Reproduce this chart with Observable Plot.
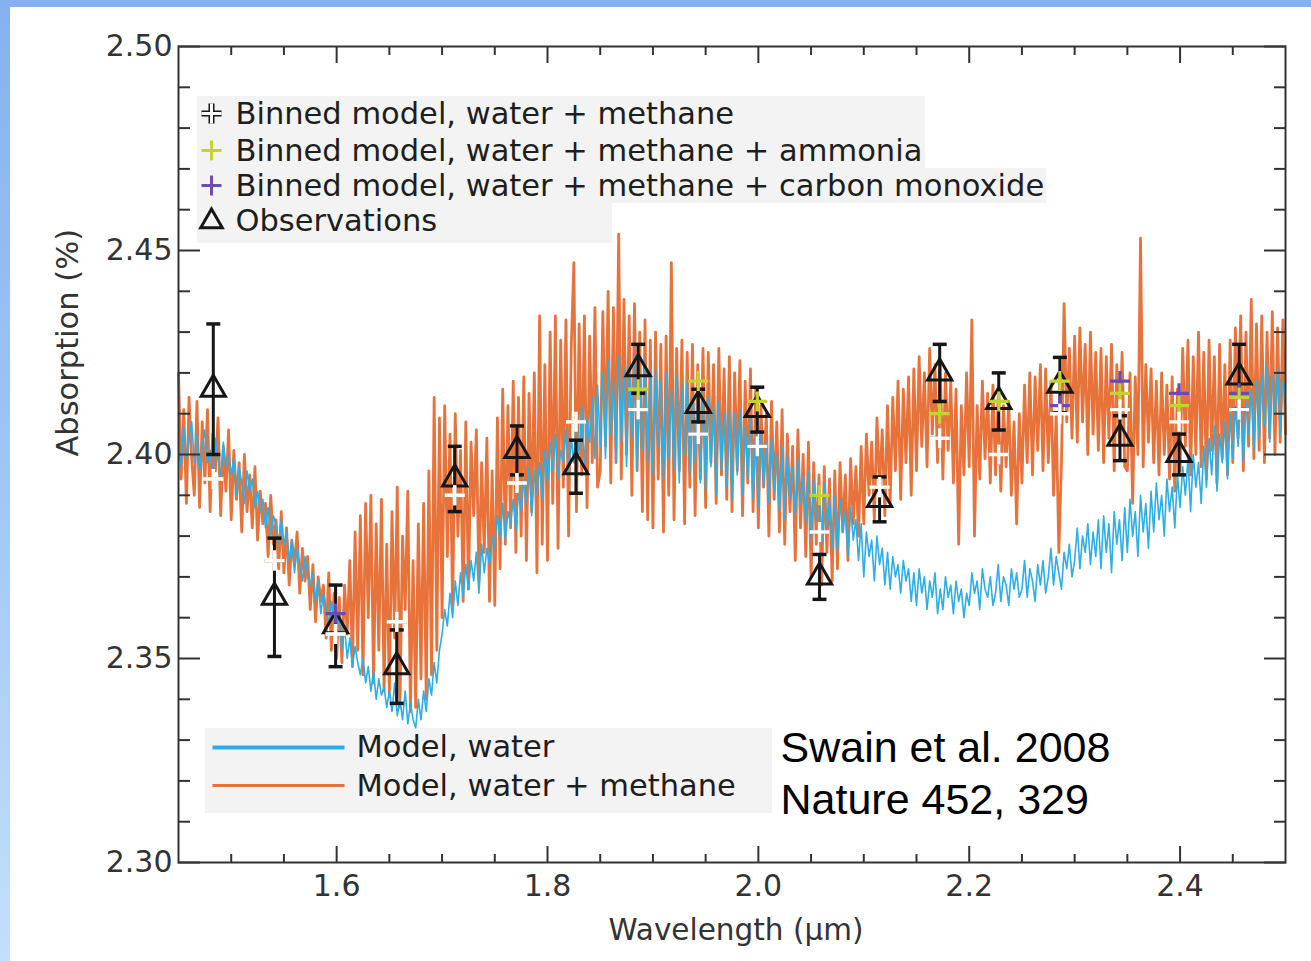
<!DOCTYPE html>
<html>
<head>
<meta charset="utf-8">
<script src="https://cdn.jsdelivr.net/npm/d3@7"></script>
<script src="https://cdn.jsdelivr.net/npm/@observablehq/plot@0.6"></script>
<style>
  html, body { margin: 0; padding: 0; }
  body {
    width: 1311px; height: 961px; overflow: hidden; position: relative;
    background: linear-gradient(180deg, #86b1ef 0%, #9cc4f4 45%, #c2e0fb 100%);
    font-family: "DejaVu Sans", sans-serif;
  }
  #panel { position: absolute; left: 10px; top: 7px; width: 1301px; height: 954px; background: #fff; }
  #panel svg { display: block; }
</style>
</head>
<body>
<div id="panel"></div>
<script>
// Transit spectrum of HD 189733b: model spectra and NICMOS observations.

// Model spectra sampled on a regular wavelength grid (µm)
const wavelengthStart = 1.45;
const wavelengthStep = 0.0025;

// Model, water + methane (absorption, %), one row per 0.025 µm
const modelWaterMethane = [
  2.420, 2.394, 2.411, 2.388, 2.414, 2.399, 2.390, 2.413, 2.387, 2.408,
  2.393, 2.411, 2.386, 2.405, 2.396, 2.409, 2.385, 2.402, 2.391, 2.406,
  2.384, 2.401, 2.389, 2.398, 2.381, 2.400, 2.386, 2.395, 2.382, 2.397,
  2.379, 2.391, 2.383, 2.388, 2.375, 2.390, 2.378, 2.384, 2.372, 2.386,
  2.371, 2.382, 2.368, 2.379, 2.373, 2.381, 2.366, 2.377, 2.369, 2.375,
  2.362, 2.373, 2.359, 2.370, 2.364, 2.368, 2.355, 2.371, 2.352, 2.366,
  2.350, 2.365, 2.349, 2.368, 2.356, 2.374, 2.348, 2.381, 2.352, 2.385,
  2.346, 2.388, 2.360, 2.390, 2.344, 2.383, 2.352, 2.389, 2.342, 2.378,
  2.341, 2.386, 2.355, 2.392, 2.338, 2.380, 2.362, 2.391, 2.337, 2.374,
  2.338, 2.383, 2.345, 2.388, 2.340, 2.396, 2.346, 2.414, 2.352, 2.409,
  2.360, 2.412, 2.375, 2.405, 2.362, 2.410, 2.380, 2.401, 2.364, 2.408,
  2.367, 2.403, 2.385, 2.406, 2.369, 2.398, 2.376, 2.404, 2.364, 2.396,
  2.363, 2.409, 2.372, 2.416, 2.378, 2.412, 2.382, 2.418, 2.376, 2.414,
  2.380, 2.419, 2.374, 2.415, 2.386, 2.420, 2.371, 2.434, 2.378, 2.422,
  2.374, 2.430, 2.388, 2.434, 2.377, 2.428, 2.392, 2.433, 2.380, 2.426,
  2.447, 2.386, 2.432, 2.395, 2.434, 2.387, 2.429, 2.398, 2.436, 2.392,
  2.396, 2.435, 2.402, 2.440, 2.393, 2.436, 2.398, 2.454, 2.394, 2.438,
  2.400, 2.434, 2.390, 2.437, 2.396, 2.430, 2.386, 2.433, 2.384, 2.428,
  2.382, 2.430, 2.394, 2.427, 2.381, 2.429, 2.390, 2.447, 2.384, 2.426,
  2.396, 2.428, 2.383, 2.425, 2.392, 2.427, 2.385, 2.422, 2.394, 2.426,
  2.387, 2.425, 2.398, 2.422, 2.388, 2.426, 2.395, 2.421, 2.389, 2.424,
  2.386, 2.420, 2.396, 2.423, 2.385, 2.418, 2.393, 2.421, 2.386, 2.416,
  2.382, 2.412, 2.392, 2.410, 2.380, 2.413, 2.389, 2.408, 2.381, 2.411,
  2.378, 2.405, 2.386, 2.402, 2.374, 2.406, 2.382, 2.400, 2.375, 2.403,
  2.370, 2.398, 2.378, 2.395, 2.368, 2.397, 2.376, 2.394, 2.369, 2.396,
  2.372, 2.398, 2.381, 2.395, 2.374, 2.399, 2.383, 2.397, 2.380, 2.402,
  2.383, 2.405, 2.390, 2.403, 2.384, 2.409, 2.392, 2.406, 2.385, 2.412,
  2.388, 2.414, 2.396, 2.418, 2.389, 2.416, 2.398, 2.419, 2.390, 2.421,
  2.396, 2.424, 2.402, 2.420, 2.397, 2.426, 2.405, 2.422, 2.398, 2.423,
  2.394, 2.420, 2.401, 2.418, 2.393, 2.416, 2.378, 2.412, 2.395, 2.420,
  2.397, 2.433, 2.380, 2.412, 2.394, 2.418, 2.399, 2.415, 2.393, 2.417,
  2.395, 2.414, 2.391, 2.412, 2.397, 2.413, 2.390, 2.408, 2.383, 2.410,
  2.393, 2.417, 2.398, 2.420, 2.395, 2.419, 2.401, 2.422, 2.396, 2.421,
  2.398, 2.418, 2.390, 2.410, 2.376, 2.398, 2.437, 2.408, 2.426, 2.404,
  2.429, 2.403, 2.431, 2.408, 2.427, 2.400, 2.430, 2.405, 2.425, 2.401,
  2.426, 2.398, 2.424, 2.404, 2.427, 2.396, 2.422, 2.402, 2.425, 2.397,
  2.396, 2.420, 2.388, 2.419, 2.400, 2.453, 2.397, 2.422, 2.403, 2.421,
  2.398, 2.418, 2.395, 2.420, 2.400, 2.417, 2.394, 2.419, 2.391, 2.416,
  2.396, 2.426, 2.402, 2.428, 2.395, 2.424, 2.400, 2.430, 2.397, 2.425,
  2.394, 2.428, 2.401, 2.424, 2.393, 2.427, 2.399, 2.422, 2.395, 2.428,
  2.398, 2.431, 2.404, 2.434, 2.396, 2.430, 2.402, 2.438, 2.399, 2.432,
  2.401, 2.434, 2.398, 2.430, 2.404, 2.435, 2.400, 2.431, 2.403, 2.433,
  2.405
];

// Model, water only (absorption, %), one row per 0.025 µm
const modelWater = [
  2.403, 2.397, 2.407, 2.399, 2.404, 2.408, 2.398, 2.405, 2.396, 2.402,
  2.406, 2.398, 2.401, 2.395, 2.404, 2.399, 2.394, 2.403, 2.397, 2.400,
  2.395, 2.399, 2.390, 2.397, 2.393, 2.388, 2.396, 2.391, 2.394, 2.387,
  2.391, 2.386, 2.389, 2.382, 2.387, 2.380, 2.385, 2.383, 2.378, 2.384,
  2.378, 2.381, 2.374, 2.379, 2.371, 2.377, 2.373, 2.369, 2.375, 2.370,
  2.368, 2.371, 2.364, 2.369, 2.361, 2.366, 2.363, 2.358, 2.364, 2.359,
  2.357, 2.360, 2.352, 2.358, 2.350, 2.355, 2.348, 2.353, 2.349, 2.346,
  2.350, 2.344, 2.348, 2.342, 2.347, 2.340, 2.345, 2.341, 2.343, 2.338,
  2.342, 2.337, 2.344, 2.336, 2.340, 2.335, 2.342, 2.334, 2.339, 2.335,
  2.333, 2.340, 2.335, 2.342, 2.337, 2.345, 2.341, 2.349, 2.344, 2.352,
  2.356, 2.362, 2.358, 2.366, 2.360, 2.369, 2.363, 2.371, 2.365, 2.373,
  2.367, 2.374, 2.369, 2.376, 2.366, 2.378, 2.371, 2.377, 2.373, 2.380,
  2.377, 2.385, 2.380, 2.388, 2.379, 2.386, 2.383, 2.389, 2.381, 2.391,
  2.386, 2.394, 2.388, 2.397, 2.385, 2.396, 2.390, 2.398, 2.389, 2.401,
  2.393, 2.403, 2.396, 2.405, 2.394, 2.401, 2.398, 2.406, 2.395, 2.404,
  2.398, 2.410, 2.400, 2.412, 2.397, 2.409, 2.403, 2.414, 2.399, 2.417,
  2.402, 2.420, 2.399, 2.423, 2.405, 2.418, 2.398, 2.424, 2.403, 2.421,
  2.397, 2.422, 2.404, 2.424, 2.396, 2.419, 2.401, 2.423, 2.398, 2.420,
  2.395, 2.421, 2.402, 2.418, 2.394, 2.420, 2.399, 2.416, 2.396, 2.419,
  2.393, 2.417, 2.400, 2.418, 2.395, 2.414, 2.398, 2.416, 2.393, 2.415,
  2.391, 2.414, 2.397, 2.412, 2.390, 2.413, 2.396, 2.410, 2.392, 2.411,
  2.389, 2.410, 2.395, 2.411, 2.390, 2.407, 2.394, 2.409, 2.389, 2.406,
  2.387, 2.405, 2.392, 2.403, 2.388, 2.404, 2.391, 2.400, 2.386, 2.402,
  2.384, 2.400, 2.389, 2.397, 2.385, 2.399, 2.388, 2.395, 2.383, 2.396,
  2.379, 2.394, 2.384, 2.391, 2.378, 2.393, 2.382, 2.389, 2.377, 2.390,
  2.376, 2.389, 2.381, 2.386, 2.375, 2.387, 2.379, 2.384, 2.374, 2.383,
  2.370, 2.381, 2.375, 2.379, 2.369, 2.380, 2.373, 2.377, 2.368, 2.376,
  2.367, 2.375, 2.370, 2.373, 2.366, 2.374, 2.369, 2.372, 2.364, 2.371,
  2.363, 2.372, 2.366, 2.370, 2.362, 2.369, 2.365, 2.371, 2.361, 2.367,
  2.362, 2.370, 2.365, 2.368, 2.361, 2.369, 2.364, 2.367, 2.360, 2.366,
  2.363, 2.371, 2.366, 2.369, 2.362, 2.372, 2.367, 2.365, 2.370, 2.363,
  2.366, 2.373, 2.364, 2.370, 2.368, 2.363, 2.372, 2.367, 2.371, 2.365,
  2.367, 2.374, 2.365, 2.372, 2.369, 2.364, 2.373, 2.368, 2.374, 2.366,
  2.370, 2.377, 2.368, 2.375, 2.371, 2.367, 2.376, 2.372, 2.378, 2.370,
  2.374, 2.382, 2.372, 2.380, 2.376, 2.383, 2.373, 2.381, 2.375, 2.384,
  2.372, 2.385, 2.376, 2.383, 2.371, 2.386, 2.378, 2.384, 2.374, 2.387,
  2.376, 2.389, 2.380, 2.386, 2.375, 2.390, 2.381, 2.388, 2.377, 2.391,
  2.381, 2.393, 2.384, 2.390, 2.380, 2.394, 2.386, 2.392, 2.382, 2.395,
  2.387, 2.397, 2.390, 2.399, 2.386, 2.400, 2.392, 2.398, 2.388, 2.402,
  2.392, 2.404, 2.395, 2.407, 2.391, 2.405, 2.398, 2.408, 2.394, 2.410,
  2.399, 2.412, 2.402, 2.414, 2.398, 2.413, 2.405, 2.416, 2.401, 2.418,
  2.404, 2.420, 2.407, 2.422, 2.403, 2.419, 2.410, 2.421, 2.405, 2.418,
  2.415
];

// Observed channels (µm) and measured absorption with 1-sigma errors (%)
const obsWavelength = [1.483, 1.541, 1.599, 1.657, 1.712, 1.771, 1.827, 1.886, 1.943,
                       1.999, 2.058, 2.115, 2.172, 2.228, 2.286, 2.343, 2.399, 2.456];
const obsAbsorption = [2.416, 2.365, 2.358, 2.348, 2.394, 2.401, 2.397, 2.421, 2.412,
                       2.411, 2.370, 2.389, 2.420, 2.413, 2.417, 2.404, 2.400, 2.419];
const obsError      = [0.016, 0.0145, 0.010, 0.009, 0.008, 0.006, 0.0065, 0.006, 0.004,
                       0.0055, 0.0055, 0.0055, 0.007, 0.007, 0.0068, 0.0055, 0.005, 0.008];

// Binned models at the observed channels (%)
const binnedWaterMethane = [2.394, 2.374, 2.356, 2.359, 2.390, 2.393, 2.408, 2.411, 2.405,
                            2.402, 2.381, 2.392, 2.404, 2.400, 2.410, 2.411, 2.408, 2.411];
const binnedAmmonia      = [2.394, 2.374, 2.356, 2.359, 2.390, 2.393, 2.408, 2.416, 2.418,
                            2.413, 2.390, 2.392, 2.410, 2.413, 2.418, 2.415, 2.412, 2.414];
const binnedCarbonMonoxide = [2.394, 2.374, 2.361, 2.359, 2.390, 2.393, 2.408, 2.411, 2.405,
                              2.402, 2.381, 2.392, 2.404, 2.400, 2.412, 2.418, 2.415, 2.415];

// Axis ticks
const xMajorTicks = [1.6, 1.8, 2.0, 2.2, 2.4];
const xMinorTicks = [1.5, 1.55, 1.65, 1.7, 1.75, 1.85, 1.9, 1.95, 2.05, 2.1, 2.15, 2.25, 2.3, 2.35, 2.45];
const yMajorTicks = [2.30, 2.35, 2.40, 2.45, 2.50];
const yMinorTicks = [2.31, 2.32, 2.33, 2.34, 2.36, 2.37, 2.38, 2.39, 2.41, 2.42, 2.43, 2.44, 2.46, 2.47, 2.48, 2.49];

// Text
const legendBinned = [
  "Binned model, water + methane",
  "Binned model, water + methane + ammonia",
  "Binned model, water + methane + carbon monoxide",
  "Observations"
];
const legendModels = ["Model, water", "Model, water + methane"];
const citation = ["Swain et al. 2008", "Nature 452, 329"];
const xLabel = "Wavelength (μm)";
const yLabel = "Absorption (%)";

// Colours
const orange = "#e8733a";
const blue = "#2caee6";
const lime = "#c5d330";
const violet = "#6a4cb4";
const ink = "#161616";
const axisInk = "#333333";

// Build tables
const spectrum = (values) => values.map((a, i) => ({
  wavelength: +(wavelengthStart + i * wavelengthStep).toFixed(5),
  absorption: a
}));
const obs = obsWavelength.map((w, i) => ({
  wavelength: w,
  absorption: obsAbsorption[i],
  lo: obsAbsorption[i] - obsError[i],
  hi: obsAbsorption[i] + obsError[i],
  binned: binnedWaterMethane[i],
  ammonia: binnedAmmonia[i],
  co: binnedCarbonMonoxide[i]
}));

// Custom stroked symbols
const crossSymbol = (h) => ({draw(c) { c.moveTo(-h, 0); c.lineTo(h, 0); c.moveTo(0, -h); c.lineTo(0, h); }});
const capSymbol = {draw(c) { c.moveTo(-7, 0); c.lineTo(7, 0); }};
const sampleLine = {draw(c) { c.moveTo(-66, 0); c.lineTo(66, 0); }};
const plus = crossSymbol(10);
const legendPlus = crossSymbol(10);

const font = "'DejaVu Sans', sans-serif";
const citeFont = "'Liberation Sans', Arial, sans-serif";
const legendFont = 30.5;
const tickFont = 30;

const chart = Plot.plot({
  width: 1301,
  height: 954,
  marginLeft: 168,
  marginRight: 26,
  marginTop: 39,
  marginBottom: 99,
  style: {fontFamily: font, fontSize: `${tickFont}px`, color: axisInk, background: "transparent", overflow: "visible"},
  x: {domain: [1.45, 2.50]},
  y: {domain: [2.30, 2.50]},
  marks: [
    // model spectra
    Plot.lineY(spectrum(modelWaterMethane), {x: "wavelength", y: "absorption", stroke: orange, strokeWidth: 2.8}),
    Plot.lineY(spectrum(modelWater), {x: "wavelength", y: "absorption", stroke: blue, strokeWidth: 1.6}),

    // observations: error bars, caps and open triangles
    Plot.ruleX(obs, {x: "wavelength", y1: "lo", y2: "hi", stroke: ink, strokeWidth: 3}),
    Plot.dot(obs, {x: "wavelength", y: "lo", symbol: capSymbol, r: 5, fill: "none", stroke: ink, strokeWidth: 3.5}),
    Plot.dot(obs, {x: "wavelength", y: "hi", symbol: capSymbol, r: 5, fill: "none", stroke: ink, strokeWidth: 3.5}),
    Plot.dot(obs, {x: "wavelength", y: "absorption", symbol: "triangle", r: 9, fill: "none", stroke: ink, strokeWidth: 3}),

    // binned models
    Plot.dot(obs, {x: "wavelength", y: "co", symbol: plus, r: 5, fill: "none", stroke: violet, strokeWidth: 3.2}),
    Plot.dot(obs, {x: "wavelength", y: "ammonia", symbol: plus, r: 5, fill: "none", stroke: lime, strokeWidth: 3.2}),
    Plot.dot(obs, {x: "wavelength", y: "binned", symbol: plus, r: 5, fill: "none", stroke: "white", strokeWidth: 3.4}),

    // frame and inward ticks
    Plot.frame({stroke: axisInk, strokeWidth: 2}),
    Plot.axisX(xMajorTicks, {anchor: "bottom", tickSize: -16, fill: "none", stroke: axisInk, strokeWidth: 2}),
    Plot.axisX(xMinorTicks, {anchor: "bottom", tickSize: -8, fill: "none", stroke: axisInk, strokeWidth: 2}),
    Plot.axisX(xMajorTicks, {anchor: "top", tickSize: -16, fill: "none", stroke: axisInk, strokeWidth: 2}),
    Plot.axisX(xMinorTicks, {anchor: "top", tickSize: -8, fill: "none", stroke: axisInk, strokeWidth: 2}),
    Plot.axisY(yMajorTicks, {anchor: "left", tickSize: -22, fill: "none", stroke: axisInk, strokeWidth: 2}),
    Plot.axisY(yMinorTicks, {anchor: "left", tickSize: -12, fill: "none", stroke: axisInk, strokeWidth: 2}),
    Plot.axisY(yMajorTicks, {anchor: "right", tickSize: -22, fill: "none", stroke: axisInk, strokeWidth: 2}),
    Plot.axisY(yMinorTicks, {anchor: "right", tickSize: -12, fill: "none", stroke: axisInk, strokeWidth: 2}),

    // tick labels
    Plot.axisX(xMajorTicks, {anchor: "bottom", tickSize: 0, tickPadding: 12, stroke: "none", fill: axisInk, tickFormat: (d) => d.toFixed(1), label: null, fontSize: tickFont}),
    Plot.axisY(yMajorTicks, {anchor: "left", tickSize: 0, tickPadding: 6, stroke: "none", fill: axisInk, tickFormat: (d) => d.toFixed(2), label: null, fontSize: tickFont}),

    // axis titles
    Plot.text([xLabel], {frameAnchor: "bottom", dx: 4, dy: 68, fontSize: 29.5, fill: axisInk, lineAnchor: "middle"}),
    Plot.text([yLabel], {frameAnchor: "left", dx: -110, dy: 2, rotate: -90, fontSize: 30.5, fill: axisInk, lineAnchor: "middle"}),

    // legend of binned models and observations
    Plot.dot([0], {frameAnchor: "top-left", dx: 33, dy: 67, symbol: legendPlus, r: 5, fill: "none", stroke: ink, strokeWidth: 6}),
    Plot.dot([0], {frameAnchor: "top-left", dx: 33, dy: 67, symbol: legendPlus, r: 5, fill: "none", stroke: "white", strokeWidth: 3}),
    Plot.dot([0], {frameAnchor: "top-left", dx: 33, dy: 104, symbol: legendPlus, r: 5, fill: "none", stroke: lime, strokeWidth: 3}),
    Plot.dot([0], {frameAnchor: "top-left", dx: 33, dy: 139, symbol: legendPlus, r: 5, fill: "none", stroke: violet, strokeWidth: 3}),
    Plot.dot([0], {frameAnchor: "top-left", dx: 33, dy: 175, symbol: "triangle", r: 8, fill: "none", stroke: ink, strokeWidth: 3}),
    ...legendBinned.map((t, i) => Plot.text([t], {frameAnchor: "top-left", dx: 57, dy: [68, 105, 140, 175][i], textAnchor: "start", lineAnchor: "middle", fontSize: legendFont, fill: "#1e1e1e"})),

    // legend of model spectra
    Plot.dot([0], {frameAnchor: "top-left", dx: 100, dy: 701, symbol: sampleLine, r: 5, fill: "none", stroke: blue, strokeWidth: 4}),
    Plot.dot([0], {frameAnchor: "top-left", dx: 100, dy: 739, symbol: sampleLine, r: 5, fill: "none", stroke: orange, strokeWidth: 3}),
    ...legendModels.map((t, i) => Plot.text([t], {frameAnchor: "top-left", dx: 178, dy: [701, 740][i], textAnchor: "start", lineAnchor: "middle", fontSize: legendFont, fill: "#1e1e1e"})),

    // reference
    ...citation.map((t, i) => Plot.text([t], {frameAnchor: "top-left", dx: 602, dy: [702, 754][i], textAnchor: "start", lineAnchor: "middle", fontSize: 43, fontFamily: citeFont, fill: "#000"}))
  ]
});

document.getElementById("panel").append(chart);

// faint backdrop behind the legend blocks (svg pixel coordinates)
const backdrops = [
  {x: 187, y: 89, w: 728, h: 72},
  {x: 187, y: 161, w: 849, h: 35},
  {x: 187, y: 196, w: 415, h: 40},
  {x: 195, y: 721, w: 567, h: 85}
];
d3.select(chart).insert("g", "g")
  .selectAll("rect").data(backdrops).join("rect")
  .attr("x", (d) => d.x).attr("y", (d) => d.y)
  .attr("width", (d) => d.w).attr("height", (d) => d.h)
  .attr("fill", "#f3f3f3");
</script>
</body>
</html>
